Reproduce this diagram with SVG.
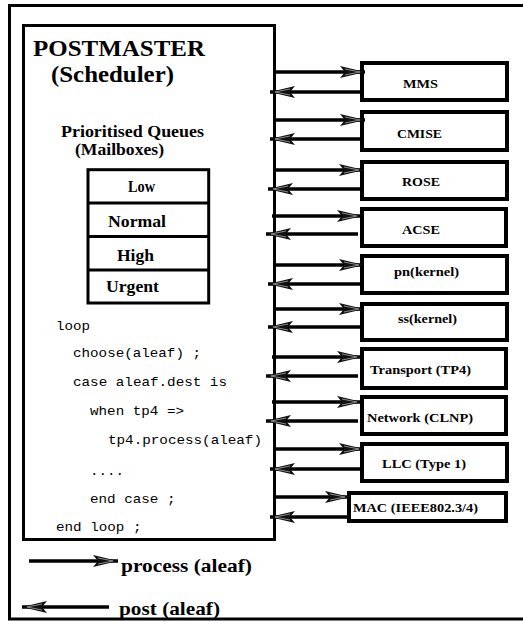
<svg xmlns="http://www.w3.org/2000/svg" width="523" height="621" viewBox="0 0 523 621">
<style>
.b{font-family:'Liberation Serif','DejaVu Serif','Times New Roman',serif;font-weight:bold;fill:#000}
.m{font-family:'Liberation Mono','DejaVu Sans Mono','Courier New',monospace;font-size:13px;fill:#000}
.box{fill:#fff;stroke:#000;stroke-width:4}
.ln{stroke:#000;stroke-width:3.5;fill:none}
.svc{font-size:13px}
</style>
<defs>
<marker id="ah" markerUnits="userSpaceOnUse" markerWidth="28" markerHeight="14" viewBox="0 0 28 14" refX="26" refY="7" orient="auto">
<path d="M1,1 L26,7 L1,13 L6,7 Z" fill="#111"/>
<path d="M6,4 L21,7 L6,10" fill="none" stroke="#888" stroke-width="1"/>
</marker>
</defs>
<rect width="523" height="621" fill="#fff"/>
<path d="M526,5.5 H9.5 V619 H526" fill="none" stroke="#000" stroke-width="3"/>
<g id="postmaster">
<rect x="23.5" y="25.5" width="251" height="514" fill="#fff" stroke="#000" stroke-width="3"/>
<text class="b" x="33" y="56" font-size="22.5" textLength="172" lengthAdjust="spacingAndGlyphs">POSTMASTER</text>
<text class="b" x="51" y="82" font-size="22.5" textLength="123" lengthAdjust="spacingAndGlyphs">(Scheduler)</text>
<text class="b" x="61" y="137" font-size="16" textLength="143" lengthAdjust="spacingAndGlyphs">Prioritised Queues</text>
<text class="b" x="75" y="155" font-size="16" textLength="89" lengthAdjust="spacingAndGlyphs">(Mailboxes)</text>
<text class="m" x="56" y="330" textLength="34" lengthAdjust="spacingAndGlyphs">loop</text>
<text class="m" x="73" y="357" textLength="128" lengthAdjust="spacingAndGlyphs">choose(aleaf) ;</text>
<text class="m" x="73" y="386" textLength="154" lengthAdjust="spacingAndGlyphs">case aleaf.dest is</text>
<text class="m" x="90" y="415" textLength="94" lengthAdjust="spacingAndGlyphs">when tp4 =&gt;</text>
<text class="m" x="108" y="444" textLength="154" lengthAdjust="spacingAndGlyphs">tp4.process(aleaf)</text>
<text class="m" x="90" y="475" textLength="34" lengthAdjust="spacingAndGlyphs">....</text>
<text class="m" x="90" y="503" textLength="85.5" lengthAdjust="spacingAndGlyphs">end case ;</text>
<text class="m" x="56" y="531" textLength="85.5" lengthAdjust="spacingAndGlyphs">end loop ;</text>
</g>
<g id="queues">
<rect x="88" y="169.7" width="120.7" height="133.3" fill="#fff" stroke="#000" stroke-width="3"/>
<path d="M88,203 H208.7 M88,236.5 H208.7 M88,270 H208.7" stroke="#000" stroke-width="3"/>
<text class="b" x="128" y="192" font-size="16" textLength="27" lengthAdjust="spacingAndGlyphs">Low</text>
<text class="b" x="108" y="227" font-size="16" textLength="58" lengthAdjust="spacingAndGlyphs">Normal</text>
<text class="b" x="117" y="261" font-size="16" textLength="37" lengthAdjust="spacingAndGlyphs">High</text>
<text class="b" x="106" y="292" font-size="16" textLength="53" lengthAdjust="spacingAndGlyphs">Urgent</text>
</g>
<g id="mms"><rect class="box" x="362" y="63" width="145" height="37"/><text class="b svc" x="403" y="88" textLength="35" lengthAdjust="spacingAndGlyphs">MMS</text></g>
<g id="cmise"><rect class="box" x="362" y="112" width="145" height="38"/><text class="b svc" x="397" y="138" textLength="45" lengthAdjust="spacingAndGlyphs">CMISE</text></g>
<g id="rose"><rect class="box" x="362" y="162" width="145" height="37"/><text class="b svc" x="402" y="186" textLength="38" lengthAdjust="spacingAndGlyphs">ROSE</text></g>
<g id="acse"><rect class="box" x="362" y="209" width="144" height="37"/><text class="b svc" x="402" y="234" textLength="38" lengthAdjust="spacingAndGlyphs">ACSE</text></g>
<g id="pn"><rect class="box" x="362" y="256" width="145" height="37"/><text class="b svc" x="394" y="276" textLength="65" lengthAdjust="spacingAndGlyphs">pn(kernel)</text></g>
<g id="ss"><rect class="box" x="362" y="304" width="145" height="36"/><text class="b svc" x="398" y="323" textLength="59" lengthAdjust="spacingAndGlyphs">ss(kernel)</text></g>
<g id="transport"><rect class="box" x="362" y="349" width="144" height="39"/><text class="b svc" x="370" y="374" textLength="101" lengthAdjust="spacingAndGlyphs">Transport (TP4)</text></g>
<g id="network"><rect class="box" x="362" y="397" width="144" height="37"/><text class="b svc" x="367" y="422" textLength="106" lengthAdjust="spacingAndGlyphs">Network (CLNP)</text></g>
<g id="llc"><rect class="box" x="362" y="444" width="145" height="37"/><text class="b svc" x="382" y="468" textLength="84" lengthAdjust="spacingAndGlyphs">LLC (Type 1)</text></g>
<g id="mac"><rect class="box" x="349" y="493" width="157" height="28"/><text class="b" x="353" y="512" font-size="11.5" textLength="125" lengthAdjust="spacingAndGlyphs">MAC (IEEE802.3/4)</text></g>
<g id="connectors">
<path class="ln" marker-end="url(#ah)" d="M276,72 H365"/>
<path class="ln" marker-end="url(#ah)" d="M361,92 H270"/>
<path class="ln" marker-end="url(#ah)" d="M276,120 H365"/>
<path class="ln" marker-end="url(#ah)" d="M361,139 H270"/>
<path class="ln" marker-end="url(#ah)" d="M276,170 H364"/>
<path class="ln" marker-end="url(#ah)" d="M361,189 H268"/>
<path class="ln" marker-end="url(#ah)" d="M272,216 H362"/>
<path class="ln" marker-end="url(#ah)" d="M358,234 H266"/>
<path class="ln" marker-end="url(#ah)" d="M276,265 H364"/>
<path class="ln" marker-end="url(#ah)" d="M361,284 H268"/>
<path class="ln" marker-end="url(#ah)" d="M276,309 H364"/>
<path class="ln" marker-end="url(#ah)" d="M361,327 H268"/>
<path class="ln" marker-end="url(#ah)" d="M272,357 H362"/>
<path class="ln" marker-end="url(#ah)" d="M358,376 H266"/>
<path class="ln" marker-end="url(#ah)" d="M272,402 H362"/>
<path class="ln" marker-end="url(#ah)" d="M358,421 H266"/>
<path class="ln" marker-end="url(#ah)" d="M276,449 H364"/>
<path class="ln" marker-end="url(#ah)" d="M361,469 H270"/>
<path class="ln" marker-end="url(#ah)" d="M276,497 H350"/>
<path class="ln" marker-end="url(#ah)" d="M348,517 H270"/>
</g>
<g id="legend">
<path class="ln" marker-end="url(#ah)" d="M29,561 H118"/>
<text class="b" x="121" y="572" font-size="19.5" textLength="131" lengthAdjust="spacingAndGlyphs">process (aleaf)</text>
<path class="ln" marker-end="url(#ah)" d="M109,607 H22"/>
<text class="b" x="119" y="615" font-size="19.5" textLength="101" lengthAdjust="spacingAndGlyphs">post (aleaf)</text>
</g>
</svg>
